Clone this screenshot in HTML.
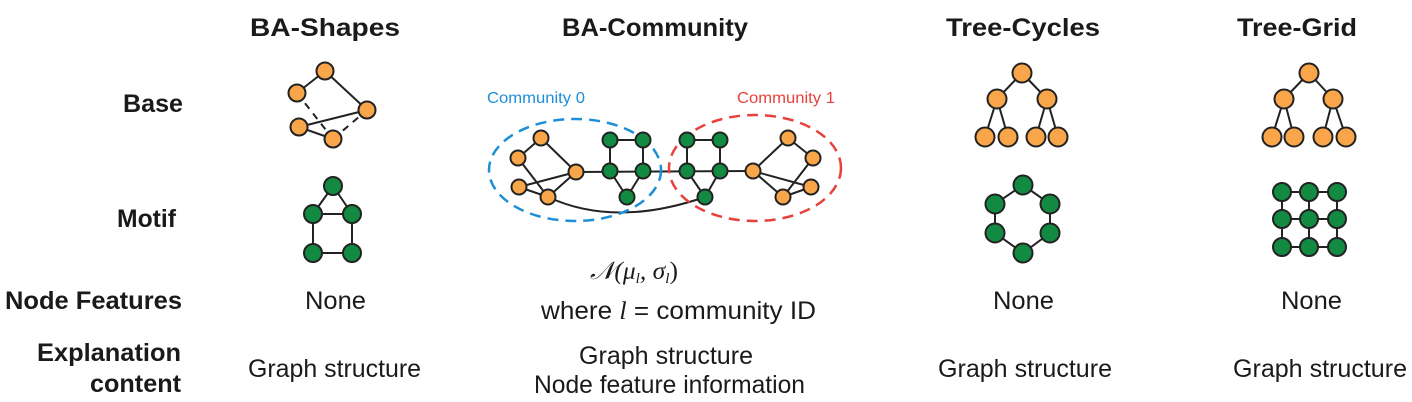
<!DOCTYPE html>
<html><head><meta charset="utf-8"><style>
html,body{margin:0;padding:0;background:#fff;}
svg{display:block;}
text{font-family:"Liberation Sans",sans-serif;fill:#1a1a1a;}
.b{font-weight:bold;font-size:25px;}
.r{font-size:25px;}
.o{fill:#F9A54A;stroke:#222;stroke-width:2;}
.g{fill:#138A42;stroke:#222;stroke-width:2;}
.e{stroke:#222;stroke-width:2;fill:none;}
</style></head><body>
<svg width="1412" height="402" viewBox="0 0 1412 402">
<text class="b" x="250" y="36" textLength="150" lengthAdjust="spacingAndGlyphs">BA-Shapes</text>
<text class="b" x="562" y="36" textLength="186" lengthAdjust="spacingAndGlyphs">BA-Community</text>
<text class="b" x="946" y="36" textLength="154" lengthAdjust="spacingAndGlyphs">Tree-Cycles</text>
<text class="b" x="1237" y="36" textLength="120" lengthAdjust="spacingAndGlyphs">Tree-Grid</text>
<text class="b" x="123" y="112" textLength="60" lengthAdjust="spacingAndGlyphs">Base</text>
<text class="b" x="117" y="227" textLength="59" lengthAdjust="spacingAndGlyphs">Motif</text>
<text class="b" x="5" y="309" textLength="177" lengthAdjust="spacingAndGlyphs">Node Features</text>
<text class="b" x="37" y="361" textLength="144" lengthAdjust="spacingAndGlyphs">Explanation</text>
<text class="b" x="90" y="392" textLength="91" lengthAdjust="spacingAndGlyphs">content</text>
<text class="r" x="305" y="309" textLength="61" lengthAdjust="spacingAndGlyphs">None</text>
<text class="r" x="993" y="309" textLength="61" lengthAdjust="spacingAndGlyphs">None</text>
<text class="r" x="1281" y="309" textLength="61" lengthAdjust="spacingAndGlyphs">None</text>
<text x="590" y="279" style="font-family:'Liberation Serif',serif;font-size:25px;font-style:italic" textLength="88" lengthAdjust="spacingAndGlyphs">𝒩(μ<tspan font-size="15" dy="4">l</tspan><tspan dy="-4">, σ</tspan><tspan font-size="15" dy="4">l</tspan><tspan dy="-4" font-style="normal">)</tspan></text>
<text class="r" x="541" y="319" textLength="275" lengthAdjust="spacingAndGlyphs">where <tspan style="font-family:'Liberation Serif',serif;font-style:italic">l</tspan> = community ID</text>
<text class="r" x="248" y="377" textLength="173" lengthAdjust="spacingAndGlyphs">Graph structure</text>
<text class="r" x="579" y="364" textLength="174" lengthAdjust="spacingAndGlyphs">Graph structure</text>
<text class="r" x="534" y="393" textLength="271" lengthAdjust="spacingAndGlyphs">Node feature information</text>
<text class="r" x="938" y="377" textLength="174" lengthAdjust="spacingAndGlyphs">Graph structure</text>
<text class="r" x="1233" y="377" textLength="174" lengthAdjust="spacingAndGlyphs">Graph structure</text>

<g class="e">
<line x1="325" y1="71" x2="297" y2="93"/><line x1="325" y1="71" x2="367" y2="110"/>
<line x1="299" y1="127" x2="367" y2="110"/><line x1="299" y1="127" x2="333" y2="139"/>
<line x1="297" y1="93" x2="333" y2="139" stroke-dasharray="7,6"/>
<line x1="333" y1="139" x2="367" y2="110" stroke-dasharray="7,6"/>
</g>
<circle class="o" cx="325" cy="71" r="8.5"/><circle class="o" cx="297" cy="93" r="8.5"/>
<circle class="o" cx="367" cy="110" r="8.5"/><circle class="o" cx="299" cy="127" r="8.5"/>
<circle class="o" cx="333" cy="139" r="8.5"/>
<g class="e">
<line x1="333" y1="186" x2="313" y2="214"/><line x1="333" y1="186" x2="352" y2="214"/>
<line x1="313" y1="214" x2="352" y2="214"/><line x1="313" y1="214" x2="313" y2="253"/>
<line x1="352" y1="214" x2="352" y2="253"/><line x1="313" y1="253" x2="352" y2="253"/>
</g>
<circle class="g" cx="333" cy="186" r="9"/><circle class="g" cx="313" cy="214" r="9"/>
<circle class="g" cx="352" cy="214" r="9"/><circle class="g" cx="313" cy="253" r="9"/>
<circle class="g" cx="352" cy="253" r="9"/>

<text x="487" y="103" style="font-size:16px;fill:#1E8FD6" textLength="98" lengthAdjust="spacingAndGlyphs">Community 0</text>
<text x="737" y="103" style="font-size:16px;fill:#E8413C" textLength="98" lengthAdjust="spacingAndGlyphs">Community 1</text>
<g class="e">
<line x1="541" y1="138" x2="518" y2="158"/><line x1="541" y1="138" x2="576" y2="172"/>
<line x1="518" y1="158" x2="548" y2="197"/><line x1="519" y1="187" x2="576" y2="172"/>
<line x1="519" y1="187" x2="548" y2="197"/><line x1="548" y1="197" x2="576" y2="172"/>
<line x1="576" y1="172" x2="753" y2="171"/>
<line x1="610" y1="140" x2="643" y2="140"/><line x1="610" y1="140" x2="610" y2="171"/>
<line x1="643" y1="140" x2="643" y2="171"/><line x1="610" y1="171" x2="627" y2="197"/>
<line x1="643" y1="171" x2="627" y2="197"/>
<line x1="687" y1="140" x2="720" y2="140"/><line x1="687" y1="140" x2="687" y2="171"/>
<line x1="720" y1="140" x2="720" y2="171"/><line x1="687" y1="171" x2="705" y2="197"/>
<line x1="720" y1="171" x2="705" y2="197"/>
<line x1="753" y1="171" x2="788" y2="138"/><line x1="788" y1="138" x2="813" y2="158"/>
<line x1="813" y1="158" x2="783" y2="197"/><line x1="811" y1="187" x2="753" y2="171"/>
<line x1="811" y1="187" x2="783" y2="197"/><line x1="783" y1="197" x2="753" y2="171"/>
<path d="M548 197 Q615 228 705 197"/>
</g>
<ellipse cx="575" cy="170" rx="86" ry="51" fill="none" stroke="#1E8FD6" stroke-width="2.5" stroke-dasharray="11,7"/>
<ellipse cx="755" cy="168" rx="86" ry="53" fill="none" stroke="#E8413C" stroke-width="2.5" stroke-dasharray="11,7"/>
<g>
<circle class="o" cx="541" cy="138" r="7.5"/><circle class="o" cx="518" cy="158" r="7.5"/>
<circle class="o" cx="576" cy="172" r="7.5"/><circle class="o" cx="519" cy="187" r="7.5"/>
<circle class="o" cx="548" cy="197" r="7.5"/>
<circle class="g" cx="610" cy="140" r="7.5"/><circle class="g" cx="643" cy="140" r="7.5"/>
<circle class="g" cx="610" cy="171" r="7.5"/><circle class="g" cx="643" cy="171" r="7.5"/>
<circle class="g" cx="627" cy="197" r="7.5"/>
<circle class="g" cx="687" cy="140" r="7.5"/><circle class="g" cx="720" cy="140" r="7.5"/>
<circle class="g" cx="687" cy="171" r="7.5"/><circle class="g" cx="720" cy="171" r="7.5"/>
<circle class="g" cx="705" cy="197" r="7.5"/>
<circle class="o" cx="753" cy="171" r="7.5"/><circle class="o" cx="788" cy="138" r="7.5"/>
<circle class="o" cx="813" cy="158" r="7.5"/><circle class="o" cx="811" cy="187" r="7.5"/>
<circle class="o" cx="783" cy="197" r="7.5"/>
</g>

<g class="e">
<line x1="1022" y1="73" x2="997" y2="99"/><line x1="1022" y1="73" x2="1047" y2="99"/>
<line x1="997" y1="99" x2="985" y2="137"/><line x1="997" y1="99" x2="1008" y2="137"/>
<line x1="1047" y1="99" x2="1036" y2="137"/><line x1="1047" y1="99" x2="1058" y2="137"/>
</g>
<circle class="o" cx="1022" cy="73" r="9.5"/><circle class="o" cx="997" cy="99" r="9.5"/>
<circle class="o" cx="1047" cy="99" r="9.5"/><circle class="o" cx="985" cy="137" r="9.5"/>
<circle class="o" cx="1008" cy="137" r="9.5"/><circle class="o" cx="1036" cy="137" r="9.5"/>
<circle class="o" cx="1058" cy="137" r="9.5"/>
<polygon class="e" points="1023,185 1050,204 1050,233 1023,253 995,233 995,204"/>
<circle class="g" cx="1023" cy="185" r="9.5"/><circle class="g" cx="1050" cy="204" r="9.5"/>
<circle class="g" cx="1050" cy="233" r="9.5"/><circle class="g" cx="1023" cy="253" r="9.5"/>
<circle class="g" cx="995" cy="233" r="9.5"/><circle class="g" cx="995" cy="204" r="9.5"/>

<g class="e">
<line x1="1309" y1="73" x2="1284" y2="99"/><line x1="1309" y1="73" x2="1333" y2="99"/>
<line x1="1284" y1="99" x2="1272" y2="137"/><line x1="1284" y1="99" x2="1294" y2="137"/>
<line x1="1333" y1="99" x2="1323" y2="137"/><line x1="1333" y1="99" x2="1346" y2="137"/>
</g>
<circle class="o" cx="1309" cy="73" r="9.5"/><circle class="o" cx="1284" cy="99" r="9.5"/>
<circle class="o" cx="1333" cy="99" r="9.5"/><circle class="o" cx="1272" cy="137" r="9.5"/>
<circle class="o" cx="1294" cy="137" r="9.5"/><circle class="o" cx="1323" cy="137" r="9.5"/>
<circle class="o" cx="1346" cy="137" r="9.5"/>
<g class="e">
<line x1="1282" y1="192" x2="1337" y2="192"/><line x1="1282" y1="219" x2="1337" y2="219"/>
<line x1="1282" y1="247" x2="1337" y2="247"/>
<line x1="1282" y1="192" x2="1282" y2="247"/><line x1="1309" y1="192" x2="1309" y2="247"/>
<line x1="1337" y1="192" x2="1337" y2="247"/>
</g>
<g>
<circle class="g" cx="1282" cy="192" r="9"/><circle class="g" cx="1309" cy="192" r="9"/><circle class="g" cx="1337" cy="192" r="9"/>
<circle class="g" cx="1282" cy="219" r="9"/><circle class="g" cx="1309" cy="219" r="9"/><circle class="g" cx="1337" cy="219" r="9"/>
<circle class="g" cx="1282" cy="247" r="9"/><circle class="g" cx="1309" cy="247" r="9"/><circle class="g" cx="1337" cy="247" r="9"/>
</g>
</svg>
</body></html>
